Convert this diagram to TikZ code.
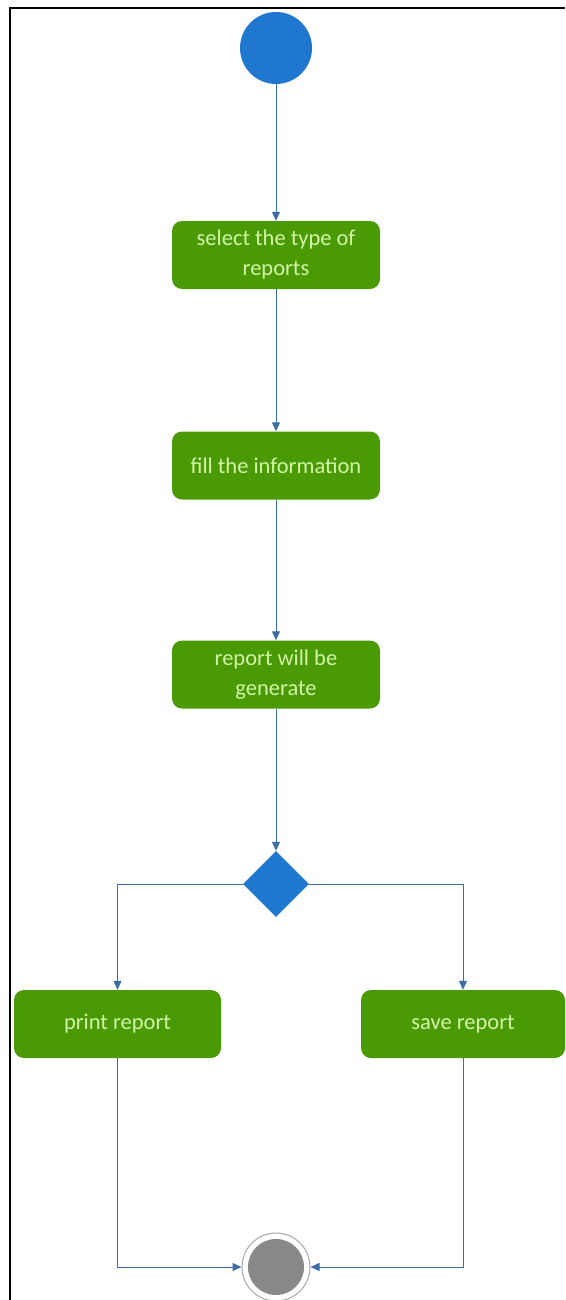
\documentclass[tikz,border=0pt]{standalone}
\usepackage{fontspec}
\setmainfont{Carlito}
\usetikzlibrary{arrows.meta,shapes.geometric}
\definecolor{actgreen}{HTML}{4A9A05}
\definecolor{acttext}{HTML}{D2F5A8}
\definecolor{nodeblue}{HTML}{2077D0}
\definecolor{flowline}{HTML}{3C6EA5}
\definecolor{endgray}{HTML}{888888}
\definecolor{ringgray}{HTML}{A8A8A8}
\begin{document}
\begin{tikzpicture}[x=1pt,y=-1pt,
  action/.style={draw=none,fill=actgreen,rounded corners=10pt,minimum width=208pt,
    minimum height=68pt,text=acttext,align=center,font=\fontsize{22.5}{30}\selectfont,inner sep=0pt},
  flow/.style={draw=flowline,line width=1pt,-{Triangle[length=9pt,width=8pt]}},
  startnode/.style={circle,fill=nodeblue,minimum size=72pt,inner sep=0pt},
  decision/.style={diamond,fill=nodeblue,minimum width=66pt,minimum height=66pt,inner sep=0pt},
  endring/.style={circle,draw=ringgray,line width=1pt,fill=white,minimum size=68pt,inner sep=0pt},
  endcore/.style={circle,fill=endgray,minimum size=56pt,inner sep=0pt}]
\useasboundingbox (0,0) rectangle (565,1300);
\fill[white] (0,0) rectangle (565,1300);
% frame along the top and left edges
\draw[line width=2pt,black] (10,1300) -- (10,8) -- (565,8);

\node[startnode] (start) at (276,48) {};
\node[action] (select) at (276,255) {select the type of\\reports};
\node[action] (fill) at (276,465.5) {fill the information};
\node[action] (gen) at (276,674.5) {report will be\\generate};
\node[decision] (dec) at (276,884) {};
\node[action,minimum width=207pt] (print) at (117.5,1024) {print report};
\node[action,minimum width=204pt] (save) at (463,1024) {save report};
\node[endring] (final) at (276,1267) {};
\node[endcore] (core) at (276,1267) {};

\draw[flow] (start) -- (select);
\draw[flow] (select) -- (fill);
\draw[flow] (fill) -- (gen);
\draw[flow] (gen) -- (dec);
\draw[flow] (dec.west) -| (print.north);
\draw[flow] (dec.east) -| (save.north);
\draw[flow] (print.south) |- (final.west);
\draw[flow] (save.south) |- (final.east);
\end{tikzpicture}
\end{document}
